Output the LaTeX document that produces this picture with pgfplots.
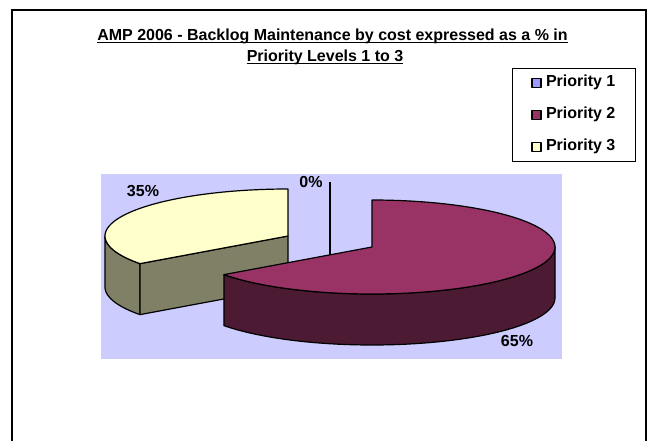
\documentclass[border=0pt]{standalone}
\usepackage{pgfplots}
\pgfplotsset{compat=1.18}
\usepackage{pgfplotstable}
\usepackage{fontspec}
\setmainfont{Liberation Sans}

\definecolor{pone}{HTML}{9999FF}
\definecolor{ptwotop}{HTML}{993366}
\definecolor{ptwoside}{HTML}{4D1A33}
\definecolor{pthreetop}{HTML}{FFFFCC}
\definecolor{pthreeside}{HTML}{808066}
\definecolor{plotbg}{HTML}{CCCCFF}

\pgfplotstableread[col sep=comma]{
name,value
Priority 1,0
Priority 2,65
Priority 3,35
}\piedata

\pgfplotstablegetelem{0}{value}\of\piedata \edef\vA{\pgfplotsretval}
\pgfplotstablegetelem{1}{value}\of\piedata \edef\vB{\pgfplotsretval}
\pgfplotstablegetelem{2}{value}\of\piedata \edef\vC{\pgfplotsretval}

% geometry of the 3-D pie (image pixels)
\def\cx{330}\def\cy{241.5}\def\ra{183}\def\rb{47}\def\dep{51}\def\ex{0.2576}

\pgfmathsetmacro\tot{\vA+\vB+\vC}
\pgfmathsetmacro\sA{0}
\pgfmathsetmacro\eA{\sA+(\vA/\tot)*360}
\pgfmathsetmacro\sB{\eA}
\pgfmathsetmacro\eB{\sB+(\vB/\tot)*360}
\pgfmathsetmacro\sC{\eB}
\pgfmathsetmacro\eC{\sC+(\vC/\tot)*360}
% explode offsets (apex of each slice)
\pgfmathsetmacro\oxA{\cx+\ra*\ex*sin((\sA+\eA)/2)}
\pgfmathsetmacro\oyA{\cy-\rb*\ex*cos((\sA+\eA)/2)}
\pgfmathsetmacro\oxB{\cx+\ra*\ex*sin((\sB+\eB)/2)}
\pgfmathsetmacro\oyB{\cy-\rb*\ex*cos((\sB+\eB)/2)}
\pgfmathsetmacro\oxC{\cx+\ra*\ex*sin((\sC+\eC)/2)}
\pgfmathsetmacro\oyC{\cy-\rb*\ex*cos((\sC+\eC)/2)}
% rim points
\pgfmathsetmacro\rxA{\oxA+\ra*sin(\sA)}
\pgfmathsetmacro\ryA{\oyA-\rb*cos(\sA)}
\pgfmathsetmacro\rxC{\oxC+\ra*sin(\sC)}
\pgfmathsetmacro\ryC{\oyC-\rb*cos(\sC)}
\pgfmathsetmacro\ryCd{\ryC+\dep}
\pgfmathsetmacro\oyAd{\oyA+\dep}
\pgfmathsetmacro\oyCd{\oyC+\dep}
% visible curved sides
\pgfmathsetmacro\loB{max(\sB,90)}
\pgfmathsetmacro\hiB{min(\eB,270)}
\pgfmathsetmacro\loC{max(\sC,90)}
\pgfmathsetmacro\hiC{min(\eC,270)}

\tikzset{declare function={
  th(\t,\a,\b)=(\t<=1) ? (\a+\t*(\b-\a)) : ((\t>=2) ? (\b-(\t-2)*(\b-\a)) : \b);
  dz(\t,\d)=(\t<=1) ? 0 : ((\t>=2) ? \d : \d*(\t-1));
}}

\pgfplotsset{sqlegend/.style={legend image code/.code={%
  \draw[##1,draw=black,line width=1.6bp] (0bp,-4.5bp) rectangle (9bp,4.5bp);}}}

\newcommand\chartfont{\bfseries\fontsize{16bp}{19bp}\selectfont}

\begin{document}
\begin{tikzpicture}
\path[use as bounding box] (0,0) rectangle (652bp,441bp);
\begin{axis}[
  at={(0,0)}, anchor=south west,
  scale only axis, width=652bp, height=441bp,
  xmin=0, xmax=652, ymin=0, ymax=441, y dir=reverse,
  hide axis, clip=false,
  every axis plot/.append style={line width=1.2bp, line join=round},
  legend style={at={(axis cs:512,68)}, anchor=north west, draw=black,
    line width=0.8bp, fill=white, font=\chartfont,
    inner xsep=19bp, inner ysep=6bp, row sep=15bp, column sep=3bp,
    nodes={inner sep=1bp, text height=11.5bp, text depth=3.5bp}},
  legend cell align=left,
]
% chart frame (bottom edge lies below the picture)
\draw[line width=1.3bp] (axis cs:12,447) -- (axis cs:12,10) -- (axis cs:646,10) -- (axis cs:646,447);
% plot area
\fill[plotbg] (axis cs:101,174) rectangle (axis cs:562,358.7);

% Priority 1 (0%): degenerate slice, only its edge shows
\addplot[forget plot, draw=black, mark=none] coordinates {(\rxA,\ryA) (\oxA,\oyA) (\oxA,\oyAd)};

% Priority 3 (back/left)
\addplot[forget plot, fill=pthreeside, draw=black, domain=0:3, samples=121]
  ({\oxC+\ra*sin(th(x,\loC,\hiC))}, {\oyC-\rb*cos(th(x,\loC,\hiC))+dz(x,\dep)}) -- cycle;
\addplot[forget plot, fill=pthreeside, draw=black] coordinates
  {(\oxC,\oyC) (\rxC,\ryC) (\rxC,\ryCd) (\oxC,\oyCd)} -- cycle;
\addplot[forget plot, fill=pthreetop, draw=black, domain=\sC:\eC, samples=61]
  ({\oxC+\ra*sin(x)}, {\oyC-\rb*cos(x)}) -- (axis cs:\oxC,\oyC) -- cycle;

% Priority 2 (front/right)
\addplot[forget plot, fill=ptwoside, draw=black, domain=0:3, samples=121]
  ({\oxB+\ra*sin(th(x,\loB,\hiB))}, {\oyB-\rb*cos(th(x,\loB,\hiB))+dz(x,\dep)}) -- cycle;
\addplot[forget plot, fill=ptwotop, draw=black, domain=\sB:\eB, samples=91]
  ({\oxB+\ra*sin(x)}, {\oyB-\rb*cos(x)}) -- (axis cs:\oxB,\oyB) -- cycle;

% data labels
\node[anchor=base, font=\chartfont, inner sep=0pt] at (axis cs:143,196.5) {\vC\%};
\node[anchor=base, font=\chartfont, inner sep=0pt] at (axis cs:311,187.3) {\vA\%};
\node[anchor=base, font=\chartfont, inner sep=0pt] at (axis cs:517,346.7) {\vB\%};

% title
\node[anchor=base, font=\chartfont, inner sep=0pt] (t1) at (axis cs:332.5,41) {AMP 2006 - Backlog Maintenance by cost expressed as a \% in};
\draw[line width=1.3bp] ([yshift=-1.8bp]t1.base west) -- ([yshift=-1.8bp]t1.base east);
\node[anchor=base, font=\chartfont, inner sep=0pt] (t2) at (axis cs:325,61.5) {Priority Levels 1 to 3};
\draw[line width=1.3bp] ([yshift=-1.8bp]t2.base west) -- ([yshift=-1.8bp]t2.base east);

% legend
\addlegendimage{sqlegend, fill=pone}
\addlegendentry{Priority 1}
\addlegendimage{sqlegend, fill=ptwotop}
\addlegendentry{Priority 2}
\addlegendimage{sqlegend, fill=pthreetop}
\addlegendentry{Priority 3}
\end{axis}
\end{tikzpicture}
\end{document}
